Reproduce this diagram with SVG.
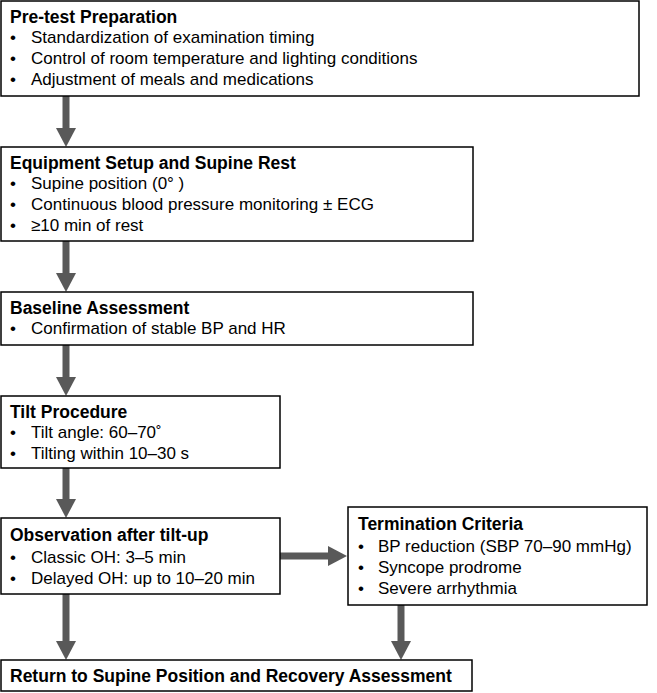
<svg xmlns="http://www.w3.org/2000/svg" width="657" height="693" viewBox="0 0 657 693">
<style>
rect{fill:#fff;stroke:#000;stroke-width:1.5}
text{font-family:"Liberation Sans",Arial,sans-serif;font-size:17px;fill:#000}
.t{font-weight:bold;font-size:17.5px}
.c line{stroke:#595959;stroke-width:7}
.c polygon{fill:#595959}
</style>
<rect x="0" y="0" width="657" height="693" style="fill:#fff;stroke:none"/>
<g class="c">
<line x1="66" y1="96" x2="66" y2="130"/><polygon points="56,128 76,128 66,147"/>
<line x1="66" y1="241" x2="66" y2="275"/><polygon points="56,273 76,273 66,292"/>
<line x1="66" y1="345" x2="66" y2="379"/><polygon points="56,377 76,377 66,396"/>
<line x1="66" y1="468" x2="66" y2="501"/><polygon points="56,499 76,499 66,518"/>
<line x1="66" y1="594" x2="66" y2="643"/><polygon points="56,641 76,641 66,660"/>
<line x1="280" y1="556" x2="330" y2="556"/><polygon points="328,546 328,566 347,556"/>
<line x1="401" y1="605" x2="401" y2="643"/><polygon points="391,641 411,641 401,660"/>
</g>
<g id="n1"><rect x="1" y="1" width="638" height="95"/>
<text class="t" x="10" y="23">Pre-test Preparation</text>
<text x="10" y="43">•</text><text x="31" y="43">Standardization of examination timing</text>
<text x="10" y="64">•</text><text x="31" y="64">Control of room temperature and lighting conditions</text>
<text x="10" y="85">•</text><text x="31" y="85">Adjustment of meals and medications</text></g>
<g id="n2"><rect x="1" y="147" width="472" height="94"/>
<text class="t" x="10" y="169">Equipment Setup and Supine Rest</text>
<text x="10" y="189">•</text><text x="31" y="189">Supine position (0°  )</text>
<text x="10" y="210">•</text><text x="31" y="210">Continuous blood pressure monitoring ± ECG</text>
<text x="10" y="231">•</text><text x="31" y="231">≥10 min of rest</text></g>
<g id="n3"><rect x="1" y="292" width="472" height="53"/>
<text class="t" x="10" y="314">Baseline Assessment</text>
<text x="10" y="334">•</text><text x="31" y="334">Confirmation of stable BP and HR</text></g>
<g id="n4"><rect x="1" y="396" width="279" height="72"/>
<text class="t" x="10" y="418">Tilt Procedure</text>
<text x="10" y="438">•</text><text x="31" y="438">Tilt angle: 60–70˚</text>
<text x="10" y="459">•</text><text x="31" y="459">Tilting within 10–30 s</text></g>
<g id="n5"><rect x="1" y="518" width="279" height="76"/>
<text class="t" x="10" y="541">Observation after tilt-up</text>
<text x="10" y="563">•</text><text x="31" y="563">Classic OH: 3–5 min</text>
<text x="10" y="584">•</text><text x="31" y="584">Delayed OH: up to 10–20 min</text></g>
<g id="n6"><rect x="348" y="507" width="299" height="98"/>
<text class="t" x="358" y="530">Termination Criteria</text>
<text x="358" y="552">•</text><text x="378" y="552">BP reduction (SBP 70–90 mmHg)</text>
<text x="358" y="573">•</text><text x="378" y="573">Syncope prodrome</text>
<text x="358" y="594">•</text><text x="378" y="594">Severe arrhythmia</text></g>
<g id="n7"><rect x="1" y="660" width="471" height="31"/>
<text class="t" x="10" y="682">Return to Supine Position and Recovery Assessment</text></g>
</svg>
